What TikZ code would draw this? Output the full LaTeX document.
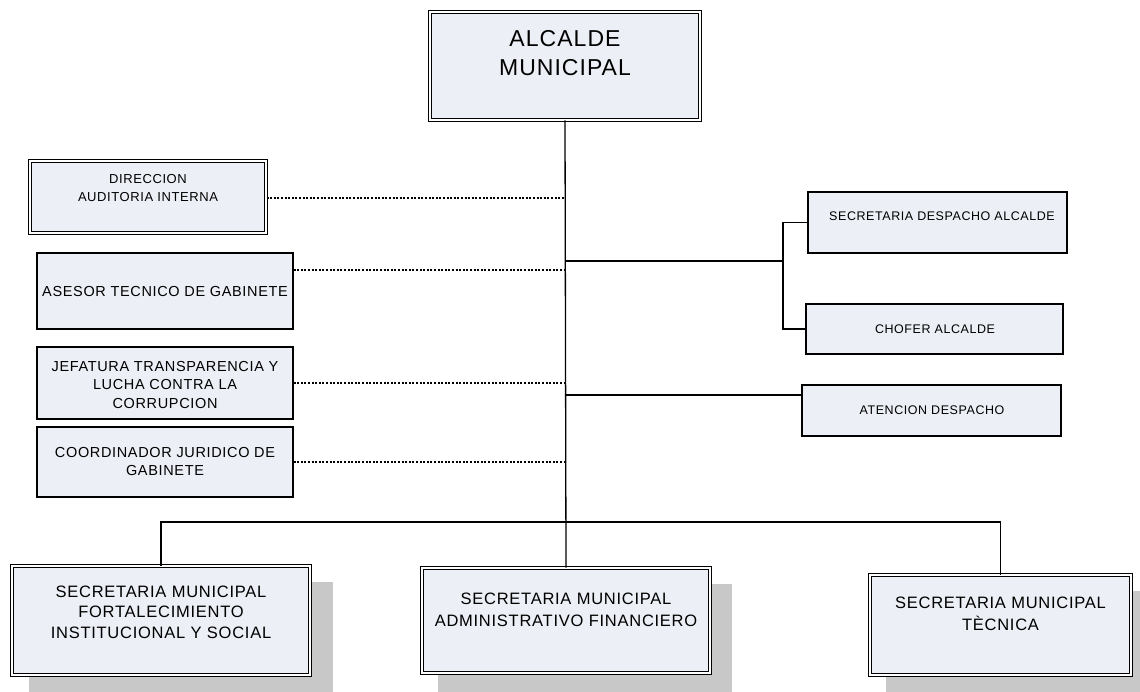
\documentclass[tikz,border=0pt]{standalone}
\usepackage{fontspec}
\setmainfont{Liberation Sans}[LetterSpace=4.5]
\usetikzlibrary{calc}
\definecolor{boxfill}{RGB}{236,239,245}
\definecolor{shadowgray}{RGB}{200,200,200}
\begin{document}
\begin{tikzpicture}[x=1pt,y=-1pt,
  plainbox/.style={draw=black, line width=1.2pt, fill=boxfill, inner sep=0pt},
  dblbox/.style={draw=black, line width=1pt, double=white, double distance=2pt, fill=boxfill, inner sep=0pt},
  shadowbox/.style={fill=shadowgray, draw=none, inner sep=0pt},
  txt/.style={align=center, inner sep=0pt, text=black},
  solidlink/.style={draw=black, line width=1.3pt},
  dotlink/.style={draw=black, line width=1.1pt, dash pattern=on 2pt off 1.6pt},
  ]
  \useasboundingbox (0,0) rectangle (1140,692);
  \fill[white] (0,0) rectangle (1140,692);

  % shadows behind the three secretariats
  \node[shadowbox, minimum width=304, minimum height=113] (shL) at (181,638.5) {};
  \node[shadowbox, minimum width=294, minimum height=109] (shM) at (585,638.5) {};
  \node[shadowbox, minimum width=267, minimum height=104] (shR) at (1019.5,643) {};

  % head of the organisation
  \node[dblbox, minimum width=270, minimum height=108] (alc) at (565,66) {};
  \node[txt, font=\fontsize{23}{28.4}\selectfont] (alcT) at (565,53) {ALCALDE\\MUNICIPAL};

  % advisory units (left)
  \node[dblbox, minimum width=236, minimum height=72] (dir) at (148,197) {};
  \node[txt, font=\fontsize{13}{18}\selectfont] (dirT) at (148,188) {DIRECCION\\AUDITORIA INTERNA};

  \node[plainbox, minimum width=256, minimum height=76] (ases) at (165,291) {};
  \node[txt, font=\fontsize{14.5}{18}\selectfont] (asesT) at (165,292) {ASESOR TECNICO DE GABINETE};

  \node[plainbox, minimum width=256, minimum height=72] (jef) at (165,383) {};
  \node[txt, font=\fontsize{14.5}{18.3}\selectfont] (jefT) at (165,385) {JEFATURA TRANSPARENCIA Y\\LUCHA CONTRA LA\\CORRUPCION};

  \node[plainbox, minimum width=256, minimum height=70] (coord) at (165,462) {};
  \node[txt, font=\fontsize{14.5}{18}\selectfont] (coordT) at (165,462) {COORDINADOR JURIDICO DE\\GABINETE};

  % office staff (right)
  \node[plainbox, minimum width=259, minimum height=61] (sec) at (937.5,222.5) {};
  \node[txt, font=\fontsize{12.5}{15}\selectfont] (secT) at (942,216) {SECRETARIA DESPACHO ALCALDE};

  \node[plainbox, minimum width=257, minimum height=50] (chof) at (934.5,329) {};
  \node[txt, font=\fontsize{12.5}{15}\selectfont] (chofT) at (935,329) {CHOFER ALCALDE};

  \node[plainbox, minimum width=259, minimum height=51] (aten) at (931.5,410.5) {};
  \node[txt, font=\fontsize{12.5}{15}\selectfont] (atenT) at (932,410) {ATENCION DESPACHO};

  % secretariats (bottom)
  \node[dblbox, minimum width=298, minimum height=109] (smL) at (161,620.5) {};
  \node[txt, font=\fontsize{16.5}{20.5}\selectfont] (smLT) at (161,612) {SECRETARIA MUNICIPAL\\FORTALECIMIENTO\\INSTITUCIONAL Y SOCIAL};

  \node[dblbox, minimum width=288, minimum height=105] (smM) at (566,620.5) {};
  \node[txt, font=\fontsize{16.5}{22}\selectfont] (smMT) at (566,610) {SECRETARIA MUNICIPAL\\ADMINISTRATIVO FINANCIERO};

  \node[dblbox, minimum width=261, minimum height=100] (smR) at (1000.5,625) {};
  \node[txt, font=\fontsize{16.5}{22}\selectfont] (smRT) at (1000.5,614) {SECRETARIA MUNICIPAL\\TÈCNICA};

  % trunk, junctions and connector ends
  \coordinate (trunk) at (alc.south);
  \coordinate (bus) at (trunk |- 0,522);
  \coordinate (fork) at (783,261);
  \coordinate (dirE) at ([yshift=-1pt]dir.east);
  \coordinate (asesE) at ([yshift=21pt]ases.east);
  \coordinate (atenW) at ([yshift=15.5pt]aten.west);

  \draw[solidlink] (alc.south) -- (smM.north);

  % dotted advisory links
  \draw[dotlink] (dirE) -- (trunk |- dirE);
  \draw[dotlink] (asesE) -- (trunk |- asesE);
  \draw[dotlink] (jef.east) -- (trunk |- jef.east);
  \draw[dotlink] (coord.east) -- (trunk |- coord.east);

  % office staff links
  \draw[solidlink] (trunk |- fork) -- (fork);
  \draw[solidlink] (sec.west) -| (fork) |- (chof.west);
  \draw[solidlink] (trunk |- atenW) -- (atenW);

  % secretariat bus
  \draw[solidlink] (smL.north) |- (bus) -| (smR.north);
\end{tikzpicture}
\end{document}
